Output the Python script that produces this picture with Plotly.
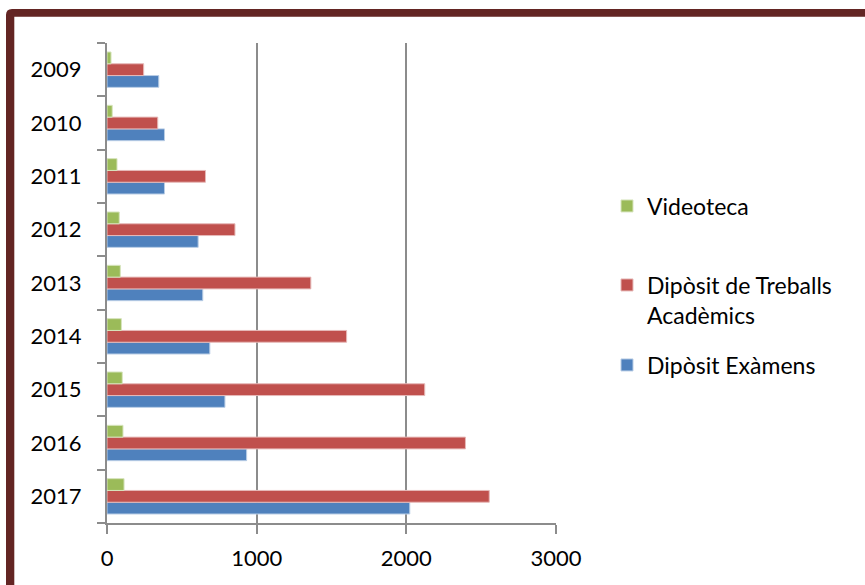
import plotly.graph_objects as go

years = ["2009", "2010", "2011", "2012", "2013", "2014", "2015", "2016", "2017"]
videoteca = [27, 35, 67, 82, 89, 96, 102, 107, 114]
treballs = [245, 339, 658, 855, 1362, 1601, 2123, 2395, 2554]
examens = [346, 384, 384, 609, 640, 687, 788, 933, 2023]
x_ticks = [0, 1000, 2000, 3000]

FONT = "Lato"
W, H = 865, 585
L, R, T, B = 107, 556, 43, 523


def px(x):
    return (x - L) / (R - L)


def py(y):
    return (B - y) / (B - T)


fig = go.Figure()
fig.add_trace(go.Bar(
    y=years, x=examens, orientation="h", name="Dipòsit Exàmens",
    marker=dict(color="#4F81BD", line=dict(color="#B9CDE5", width=1)),
    legend="legend3", showlegend=True))
fig.add_trace(go.Bar(
    y=years, x=treballs, orientation="h", name="Dipòsit de Treballs<br>Acadèmics",
    marker=dict(color="#C0504D", line=dict(color="#E6B9B8", width=1)),
    legend="legend2", showlegend=True))
fig.add_trace(go.Bar(
    y=years, x=videoteca, orientation="h", name="Videoteca",
    marker=dict(color="#9BBB59", line=dict(color="#D7E4BD", width=1)),
    legend="legend", showlegend=True))

border = (f"M {px(6)},{py(620)} L {px(6)},{py(15)} Q {px(6)},{py(9)} {px(12)},{py(9)} "
          f"L {px(890)},{py(9)} L {px(890)},{py(16.7)} L {px(14.3)},{py(16.7)} "
          f"L {px(14.3)},{py(620)} Z")

legend_common = dict(
    font=dict(family=FONT, size=23, color="#000000"),
    xanchor="left", yanchor="middle", bgcolor="rgba(0,0,0,0)",
    valign="top", x=px(607),
)

fig.update_layout(
    width=W, height=H,
    margin=dict(l=L, r=W - R, t=T, b=H - B, pad=0),
    paper_bgcolor="white", plot_bgcolor="white",
    barmode="group", bargap=0.337, bargroupgap=0,
    font=dict(family=FONT, size=22, color="#000000"),
    showlegend=True,
    xaxis=dict(
        range=[0, 3000], tickvals=x_ticks, ticktext=[str(v) for v in x_ticks],
        showgrid=True, gridcolor="#8C8C8C", gridwidth=1.5,
        showline=True, linecolor="#8C8C8C", linewidth=2,
        ticks="outside", ticklen=9, tickcolor="#8C8C8C", tickwidth=2,
        zeroline=False, ticklabelstandoff=6, fixedrange=True,
    ),
    yaxis=dict(
        type="category", categoryorder="array", categoryarray=years[::-1],
        showgrid=False, showline=True, linecolor="#8C8C8C", linewidth=2,
        ticks="outside", tickson="boundaries", ticklen=8,
        tickcolor="#8C8C8C", tickwidth=2, ticklabelstandoff=19, fixedrange=True,
    ),
    legend=dict(**legend_common, y=py(206)),
    legend2=dict(**legend_common, y=py(300)),
    legend3=dict(**legend_common, y=py(365)),
    shapes=[dict(type="path", xref="paper", yref="paper", path=border,
                 fillcolor="#632523", line=dict(width=0), layer="above")],
)

fig.write_html("out.html",
               config={"displayModeBar": False},
               post_script="document.body.style.margin='0';document.body.style.overflow='hidden';")
